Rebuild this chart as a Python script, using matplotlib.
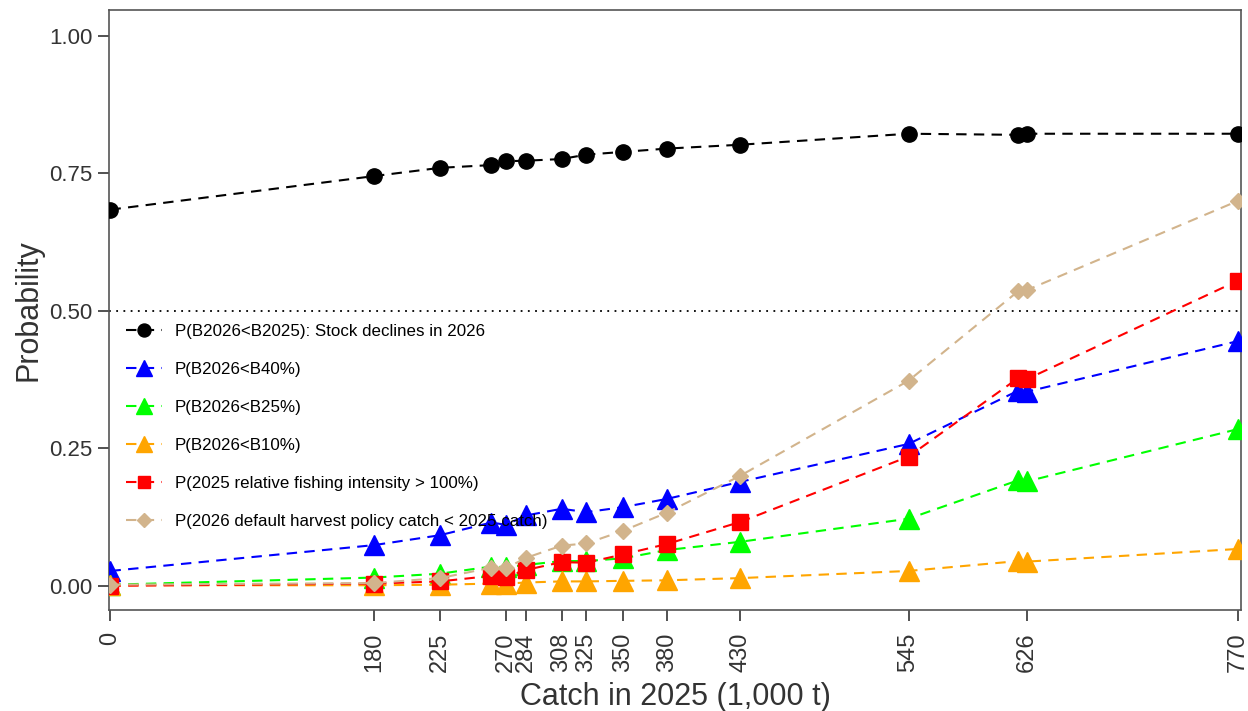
import numpy as np
import matplotlib
matplotlib.use("Agg")
import matplotlib.pyplot as plt

plt.rcParams['font.family'] = ['Liberation Sans', 'DejaVu Sans']

# catch levels (1,000 t)
catch = [0, 180, 225, 260, 270, 284, 308, 325, 350, 380, 430, 545, 620, 626, 770]
tick_catch = [0, 180, 225, 270, 284, 308, 325, 350, 380, 430, 545, 626, 770]

p_decline = [0.684, 0.745, 0.760, 0.765, 0.772, 0.773, 0.776, 0.784, 0.789, 0.795, 0.802, 0.822, 0.820, 0.822, 0.822]
p_b40 = [0.027, 0.074, 0.092, 0.115, 0.111, 0.128, 0.140, 0.134, 0.143, 0.158, 0.189, 0.258, 0.355, 0.353, 0.445]
p_b25 = [0.002, 0.015, 0.022, 0.035, 0.034, 0.038, 0.045, 0.045, 0.050, 0.065, 0.080, 0.122, 0.192, 0.190, 0.285]
p_b10 = [0.001, 0.001, 0.002, 0.004, 0.004, 0.006, 0.008, 0.008, 0.009, 0.010, 0.014, 0.027, 0.045, 0.044, 0.067]
p_fi = [0.000, 0.004, 0.008, 0.018, 0.016, 0.029, 0.043, 0.042, 0.057, 0.076, 0.116, 0.235, 0.378, 0.376, 0.555]
p_hcr = [0.002, 0.005, 0.014, 0.033, 0.032, 0.051, 0.073, 0.077, 0.100, 0.133, 0.200, 0.373, 0.536, 0.538, 0.700]

labels = [
    "P(B2026<B2025): Stock declines in 2026",
    "P(B2026<B40%)",
    "P(B2026<B25%)",
    "P(B2026<B10%)",
    "P(2025 relative fishing intensity > 100%)",
    "P(2026 default harvest policy catch < 2025 catch)",
]
series = [p_decline, p_b40, p_b25, p_b10, p_fi, p_hcr]
colors = ["black", "blue", "#00ff00", "orange", "red", "tan"]
markers = ["o", "^", "^", "^", "s", "D"]
msizes = [11, 14, 14, 14, 11, 8]

fig = plt.figure(figsize=(12.48, 7.11), dpi=100)
ax = fig.add_axes([109 / 1248, 1 - 610 / 711, 1132 / 1248, 600 / 711])

ax.axhline(0.5, color="black", lw=1.3, ls=(0, (1, 3)), zorder=1)

for y, c, m, ms, lab in zip(series, colors, markers, msizes, labels):
    ax.plot(catch, y, color=c, marker=m, ms=ms, mec=c, lw=1.5,
            ls=(0, (5, 3.5)), label=lab, zorder=3)

ax.set_xlim(-1, 772)
ax.set_ylim(-0.044, 1.047)
ax.set_xticks(tick_catch)
ax.set_xticklabels([str(t) for t in tick_catch], rotation=90)
ax.set_yticks([0, 0.25, 0.5, 0.75, 1.0])
ax.set_yticklabels(["0.00", "0.25", "0.50", "0.75", "1.00"])
ax.tick_params(axis="both", direction="out", length=8, width=1.2, color="#333333",
               labelcolor="#333333")
ax.tick_params(axis="y", labelsize=16, pad=4)
ax.tick_params(axis="x", labelsize=17, pad=8)
for s in ax.spines.values():
    s.set_color("#555555")
    s.set_linewidth(1.2)

ax.set_xlabel("Catch in 2025 (1,000 t)", fontsize=22, color="#333333", labelpad=7)
ax.set_ylabel("Probability", fontsize=22, color="#333333", labelpad=4)

leg = ax.legend(loc="upper left", bbox_to_anchor=(0.0, 0.505), frameon=False,
                fontsize=12.2, handlelength=2.1, labelspacing=1.36, borderaxespad=0.6,
                handletextpad=0.8, markerscale=0.85)

fig.savefig("out.png", dpi=100)
